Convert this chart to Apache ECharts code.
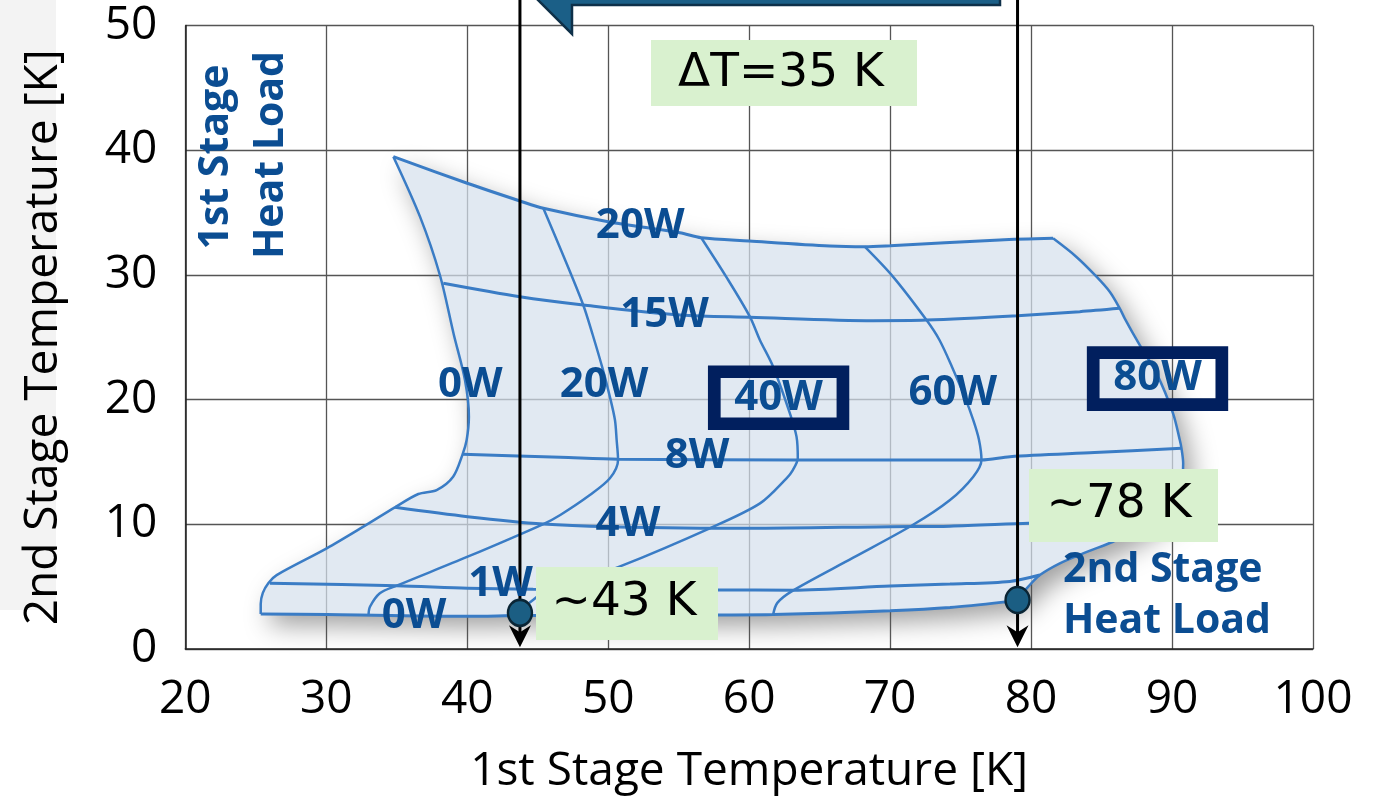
<!DOCTYPE html>
<html>
<head>
<meta charset="utf-8">
<title>Load map</title>
<script src="https://cdn.jsdelivr.net/npm/echarts@6.0.0/dist/echarts.min.js"></script>
<style>
html, body { margin: 0; padding: 0; background: #fff; }
#main { width: 1375px; height: 800px; }
</style>
</head>
<body>
<div id="main"></div>
<script>
var chart = echarts.init(document.getElementById('main'));

// axis ticks
var xTicks = [20, 30, 40, 50, 60, 70, 80, 90, 100];
var yTicks = [0, 10, 20, 30, 40, 50];

// curves of constant 2nd stage heat load  [1st stage T, 2nd stage T]
var stage2Names = ['0W', '1W', '4W', '8W', '15W', '20W'];
var stage2_0W = [[25.35, 2.81], [30.03, 2.76], [40.03, 2.62], [43.74, 2.68], [50.0, 2.7], [57.8, 2.73], [61.7, 2.76], [70.0, 3.07], [74.25, 3.33], [78.26, 3.79], [79.04, 3.93]];
var stage2_1W = [[26.0, 5.27], [35.0, 5.08], [40.03, 4.87], [44.68, 4.79], [57.8, 4.73], [63.1, 4.72], [70.0, 5.05], [74.25, 5.21], [78.5, 5.42], [80.62, 5.93]];
var stage2_4W = [[34.87, 11.36], [40.03, 10.61], [45.4, 10.02], [50.05, 9.81], [60.0, 9.68], [70.0, 9.81], [74.25, 9.85], [79.84, 10.08], [88.6, 10.35]];
var stage2_8W = [[39.67, 15.61], [46.6, 15.37], [50.7, 15.21], [63.4, 15.16], [76.48, 15.16], [78.5, 15.42], [84.5, 15.75], [90.67, 16.09]];
var stage2_15W = [[38.3, 29.33], [43.74, 28.25], [48.23, 27.59], [55.1, 26.78], [60.05, 26.6], [68.8, 26.33], [72.58, 26.38], [79.04, 26.73], [83.45, 27.05], [86.29, 27.32]];
var stage2_20W = [[34.76, 39.48], [40.0, 37.35], [43.74, 35.93], [45.4, 35.34], [50.0, 34.27], [55.08, 33.38], [56.6, 32.98], [60.0, 32.72], [65.72, 32.32], [68.2, 32.26], [70.0, 32.34], [77.78, 32.8], [81.56, 32.93]];

// curves of constant 1st stage heat load
var stage1Names = ['0W', '20W', '40W', '60W', '80W'];
var stage1_0W = [[34.76, 39.48], [36.65, 34.67], [38.06, 29.99], [39.05, 25.2], [39.84, 21.57], [40.12, 18.63], [39.96, 16.76], [39.67, 15.61], [39.0, 13.82], [37.83, 12.75], [36.53, 12.43], [34.87, 11.36], [32.63, 9.81], [30.03, 8.07], [26.48, 5.93], [25.9, 5.3], [25.5, 4.5], [25.35, 3.6], [25.35, 2.81]];
var stage1_20W = [[45.4, 35.34], [46.85, 31.46], [48.23, 27.59], [48.9, 25.2], [49.6, 22.5], [50.12, 20.23], [50.48, 18.36], [50.6, 16.76], [50.7, 15.16], [50.12, 13.69], [48.7, 12.35], [46.6, 10.75], [45.4, 10.02], [40.03, 7.4], [35.0, 5.08], [33.8, 4.47], [33.1, 3.39], [33.0, 2.76]];
var stage1_40W = [[56.6, 32.98], [58.4, 29.8], [60.05, 26.65], [60.76, 24.78], [61.7, 22.64], [62.89, 18.9], [63.36, 17.03], [63.45, 15.29], [63.1, 14.35], [62.65, 13.69], [60.77, 11.68], [57.2, 9.68], [50.8, 6.6], [47.5, 5.3], [45.3, 4.45], [44.67, 3.93], [44.0, 3.3], [43.74, 2.9]];
var stage1_60W = [[68.2, 32.26], [70.2, 29.86], [72.58, 26.38], [73.5, 24.78], [74.4, 22.6], [75.3, 20.2], [75.9, 18.36], [76.3, 16.8], [76.48, 15.16], [75.9, 13.82], [74.25, 11.95], [71.6, 9.94], [67.35, 7.3], [63.1, 4.68], [62.0, 3.7], [61.7, 2.76]];
var stage1_80W = [[81.56, 32.93], [83.2, 31.46], [84.64, 29.86], [85.58, 28.65], [86.29, 27.32], [86.64, 26.52], [87.7, 24.38], [88.9, 22.1], [90.07, 18.9], [90.55, 16.76], [90.67, 16.09], [90.79, 14.89], [90.6, 12.9], [89.9, 11.4], [88.6, 10.35], [87.2, 9.3], [85.82, 8.6], [83.69, 7.67], [82.04, 6.87], [80.62, 5.93], [79.8, 5.0], [79.2, 4.19], [79.04, 3.93]];

// label anchors for the curves
var stage2LabelAt = [[36.23, 2.67], [42.37, 5.21], [51.4, 10.05], [56.3, 15.48], [54.0, 26.8], [52.27, 33.95]];
var stage1LabelAt = [[40.22, 21.2], [49.7, 21.2], [62.09, 20.15], [74.45, 20.5], [88.97, 21.69]];
var boxedLabels = ['40W', '80W'];

// operating points (2nd stage at 0W) and their readings
var pointNames = ['~43 K', '~78 K'];
var pointX = [43.74, 79.04];
var pointY = [2.9, 3.93];
var deltaText = 'ΔT=35 K';

var stage2Curves = [stage2_0W, stage2_1W, stage2_4W, stage2_8W, stage2_15W, stage2_20W];
var stage1Curves = [stage1_0W, stage1_20W, stage1_40W, stage1_60W, stage1_80W];

// outline of the operating region: top, right, bottom, left
var outline = stage2_20W
    .concat(stage1_80W.slice(1))
    .concat(stage2_0W.slice().reverse().slice(1))
    .concat(stage1_0W.slice().reverse().slice(1, -1));

var blue = '#3a7cc5';
var textBlue = '#0b4d92';
var green = '#d9f1cf';

var series = [];

// shadow under the region (below grid lines)
series.push({
    type: 'custom',
    z: -1,
    silent: true,
    data: [0],
    renderItem: function (params, api) {
        return {
            type: 'polygon',
            shape: { points: outline.map(function (p) { return api.coord(p); }) },
            style: { fill: '#fff', shadowBlur: 26, shadowColor: 'rgba(0,0,0,0.38)', shadowOffsetX: 9, shadowOffsetY: 11 }
        };
    }
});
// the light blue region
series.push({
    type: 'custom',
    z: 1,
    silent: true,
    data: [0],
    renderItem: function (params, api) {
        return {
            type: 'polygon',
            shape: { points: outline.map(function (p) { return api.coord(p); }) },
            style: { fill: 'rgba(213,224,237,0.72)' }
        };
    }
});

stage2Curves.forEach(function (c, i) {
    series.push({
        name: '2nd ' + stage2Names[i], type: 'line', data: c, smooth: 0.3,
        symbol: 'none', silent: true, z: 3,
        lineStyle: { color: blue, width: 3 }
    });
});
stage1Curves.forEach(function (c, i) {
    series.push({
        name: '1st ' + stage1Names[i], type: 'line', data: c, smooth: 0.3,
        symbol: 'none', silent: true, z: 3,
        lineStyle: { color: blue, width: 2.5 }
    });
});

// vertical reading lines
pointX.forEach(function (x) {
    series.push({
        type: 'line', data: [[x, 53], [x, 0.5]], symbol: 'none', clip: false,
        silent: true, z: 4, lineStyle: { color: '#000', width: 3 }
    });
});
// arrow heads at the x axis
series.push({
    type: 'custom', silent: true, z: 5,
    data: pointX.map(function (x) { return [x, 0.15]; }),
    renderItem: function (params, api) {
        var tip = api.coord([api.value(0), api.value(1)]);
        return {
            type: 'polygon',
            shape: { points: [tip, [tip[0] - 11, tip[1] - 22], [tip[0], tip[1] - 15], [tip[0] + 11, tip[1] - 22]] },
            style: { fill: '#000' }
        };
    }
});
series.push({
    type: 'scatter', silent: true, z: 6,
    data: pointX.map(function (x, i) { return [x, pointY[i]]; }),
    symbolSize: [24, 26],
    itemStyle: { color: '#1b5e83', borderColor: '#0a2535', borderWidth: 2.5, opacity: 1 }
});

// curve labels
var labelFont = { fontFamily: 'Open Sans', fontWeight: 'bold', fontSize: 42, color: textBlue, lineHeight: 40 };
var labelData = [];
stage2Names.forEach(function (n, i) { labelData.push({ name: n, value: stage2LabelAt[i] }); });
stage1Names.forEach(function (n, i) {
    var item = { name: n, value: stage1LabelAt[i] };
    if (boxedLabels.indexOf(n) >= 0) {
        item.label = { borderColor: '#011f5e', borderWidth: 12.7, padding: [6, 20] };
    }
    labelData.push(item);
});
series.push({
    type: 'scatter', silent: true, z: 8,
    data: labelData, symbolSize: 1,
    itemStyle: { color: '#fff', opacity: 1 },
    label: Object.assign({ show: true, position: 'inside', formatter: '{b}', opacity: 1 }, labelFont)
});

function greenBox(x1, y1, x2, y2, text, cx, cy) {
    return [
        { type: 'rect', z: 20, shape: { x: x1, y: y1, width: x2 - x1, height: y2 - y1 }, style: { fill: green } },
        { type: 'text', z: 21, x: cx, y: cy, style: { text: text, font: '47px "DejaVu Sans"', fill: '#000', textAlign: 'center', textVerticalAlign: 'middle', align: 'center', verticalAlign: 'middle' } }
    ];
}

function blueText(text, x, y, rot, align) {
    return {
        type: 'text', z: 21, x: x, y: y, rotation: rot,
        style: { text: text, font: 'bold 41px "Open Sans"', fill: textBlue, textAlign: align, textVerticalAlign: 'middle', align: align, verticalAlign: 'middle' }
    };
}

var graphics = [
    { type: 'rect', z: -10, shape: { x: 0, y: 0, width: 56, height: 610 }, style: { fill: '#f3f3f3' } },
    { type: 'polygon', z: 20, shape: { points: [[526, -12], [572, 34], [572, 5], [1000, 5], [1000, -12]] }, style: { fill: '#1b5f87', stroke: '#0e3049', lineWidth: 2.5 } },
    blueText('1st Stage', 216, 157, Math.PI / 2, 'center'),
    blueText('Heat Load', 271, 155, Math.PI / 2, 'center'),
    blueText('2nd Stage', 1063, 570, 0, 'left'),
    blueText('Heat Load', 1063, 621, 0, 'left')
]
    .concat(greenBox(651, 40, 917, 106, deltaText, 781, 74))
    .concat(greenBox(536, 567, 718, 640, pointNames[0], 624, 603))
    .concat(greenBox(1029, 469, 1218, 542, pointNames[1], 1119, 505));

var axisFont = { fontFamily: 'Open Sans', fontSize: 46, color: '#000' };

option = {
    animation: false,
    backgroundColor: '#fff',
    grid: { left: 185.3, right: 62, top: 25.5, bottom: 151, containLabel: false },
    xAxis: {
        type: 'value',
        min: xTicks[0], max: xTicks[xTicks.length - 1], interval: xTicks[1] - xTicks[0],
        name: '1st Stage Temperature [K]', nameLocation: 'middle', nameGap: 100,
        nameTextStyle: axisFont,
        axisLine: { show: true, lineStyle: { color: '#222', width: 1.5 } },
        axisTick: { show: false },
        axisLabel: Object.assign({ margin: 28 }, axisFont),
        splitLine: { show: true, lineStyle: { color: '#555', width: 1.3 } }
    },
    yAxis: {
        type: 'value',
        min: yTicks[0], max: yTicks[yTicks.length - 1], interval: yTicks[1] - yTicks[0],
        name: '2nd Stage Temperature [K]', nameLocation: 'middle', nameGap: 118,
        nameTextStyle: axisFont,
        axisLine: { show: true, lineStyle: { color: '#222', width: 1.5 } },
        axisTick: { show: false },
        axisLabel: Object.assign({ margin: 28 }, axisFont),
        splitLine: { show: true, lineStyle: { color: '#555', width: 1.3 } }
    },
    graphic: graphics,
    series: series
};

chart.setOption(option);
</script>
</body>
</html>
